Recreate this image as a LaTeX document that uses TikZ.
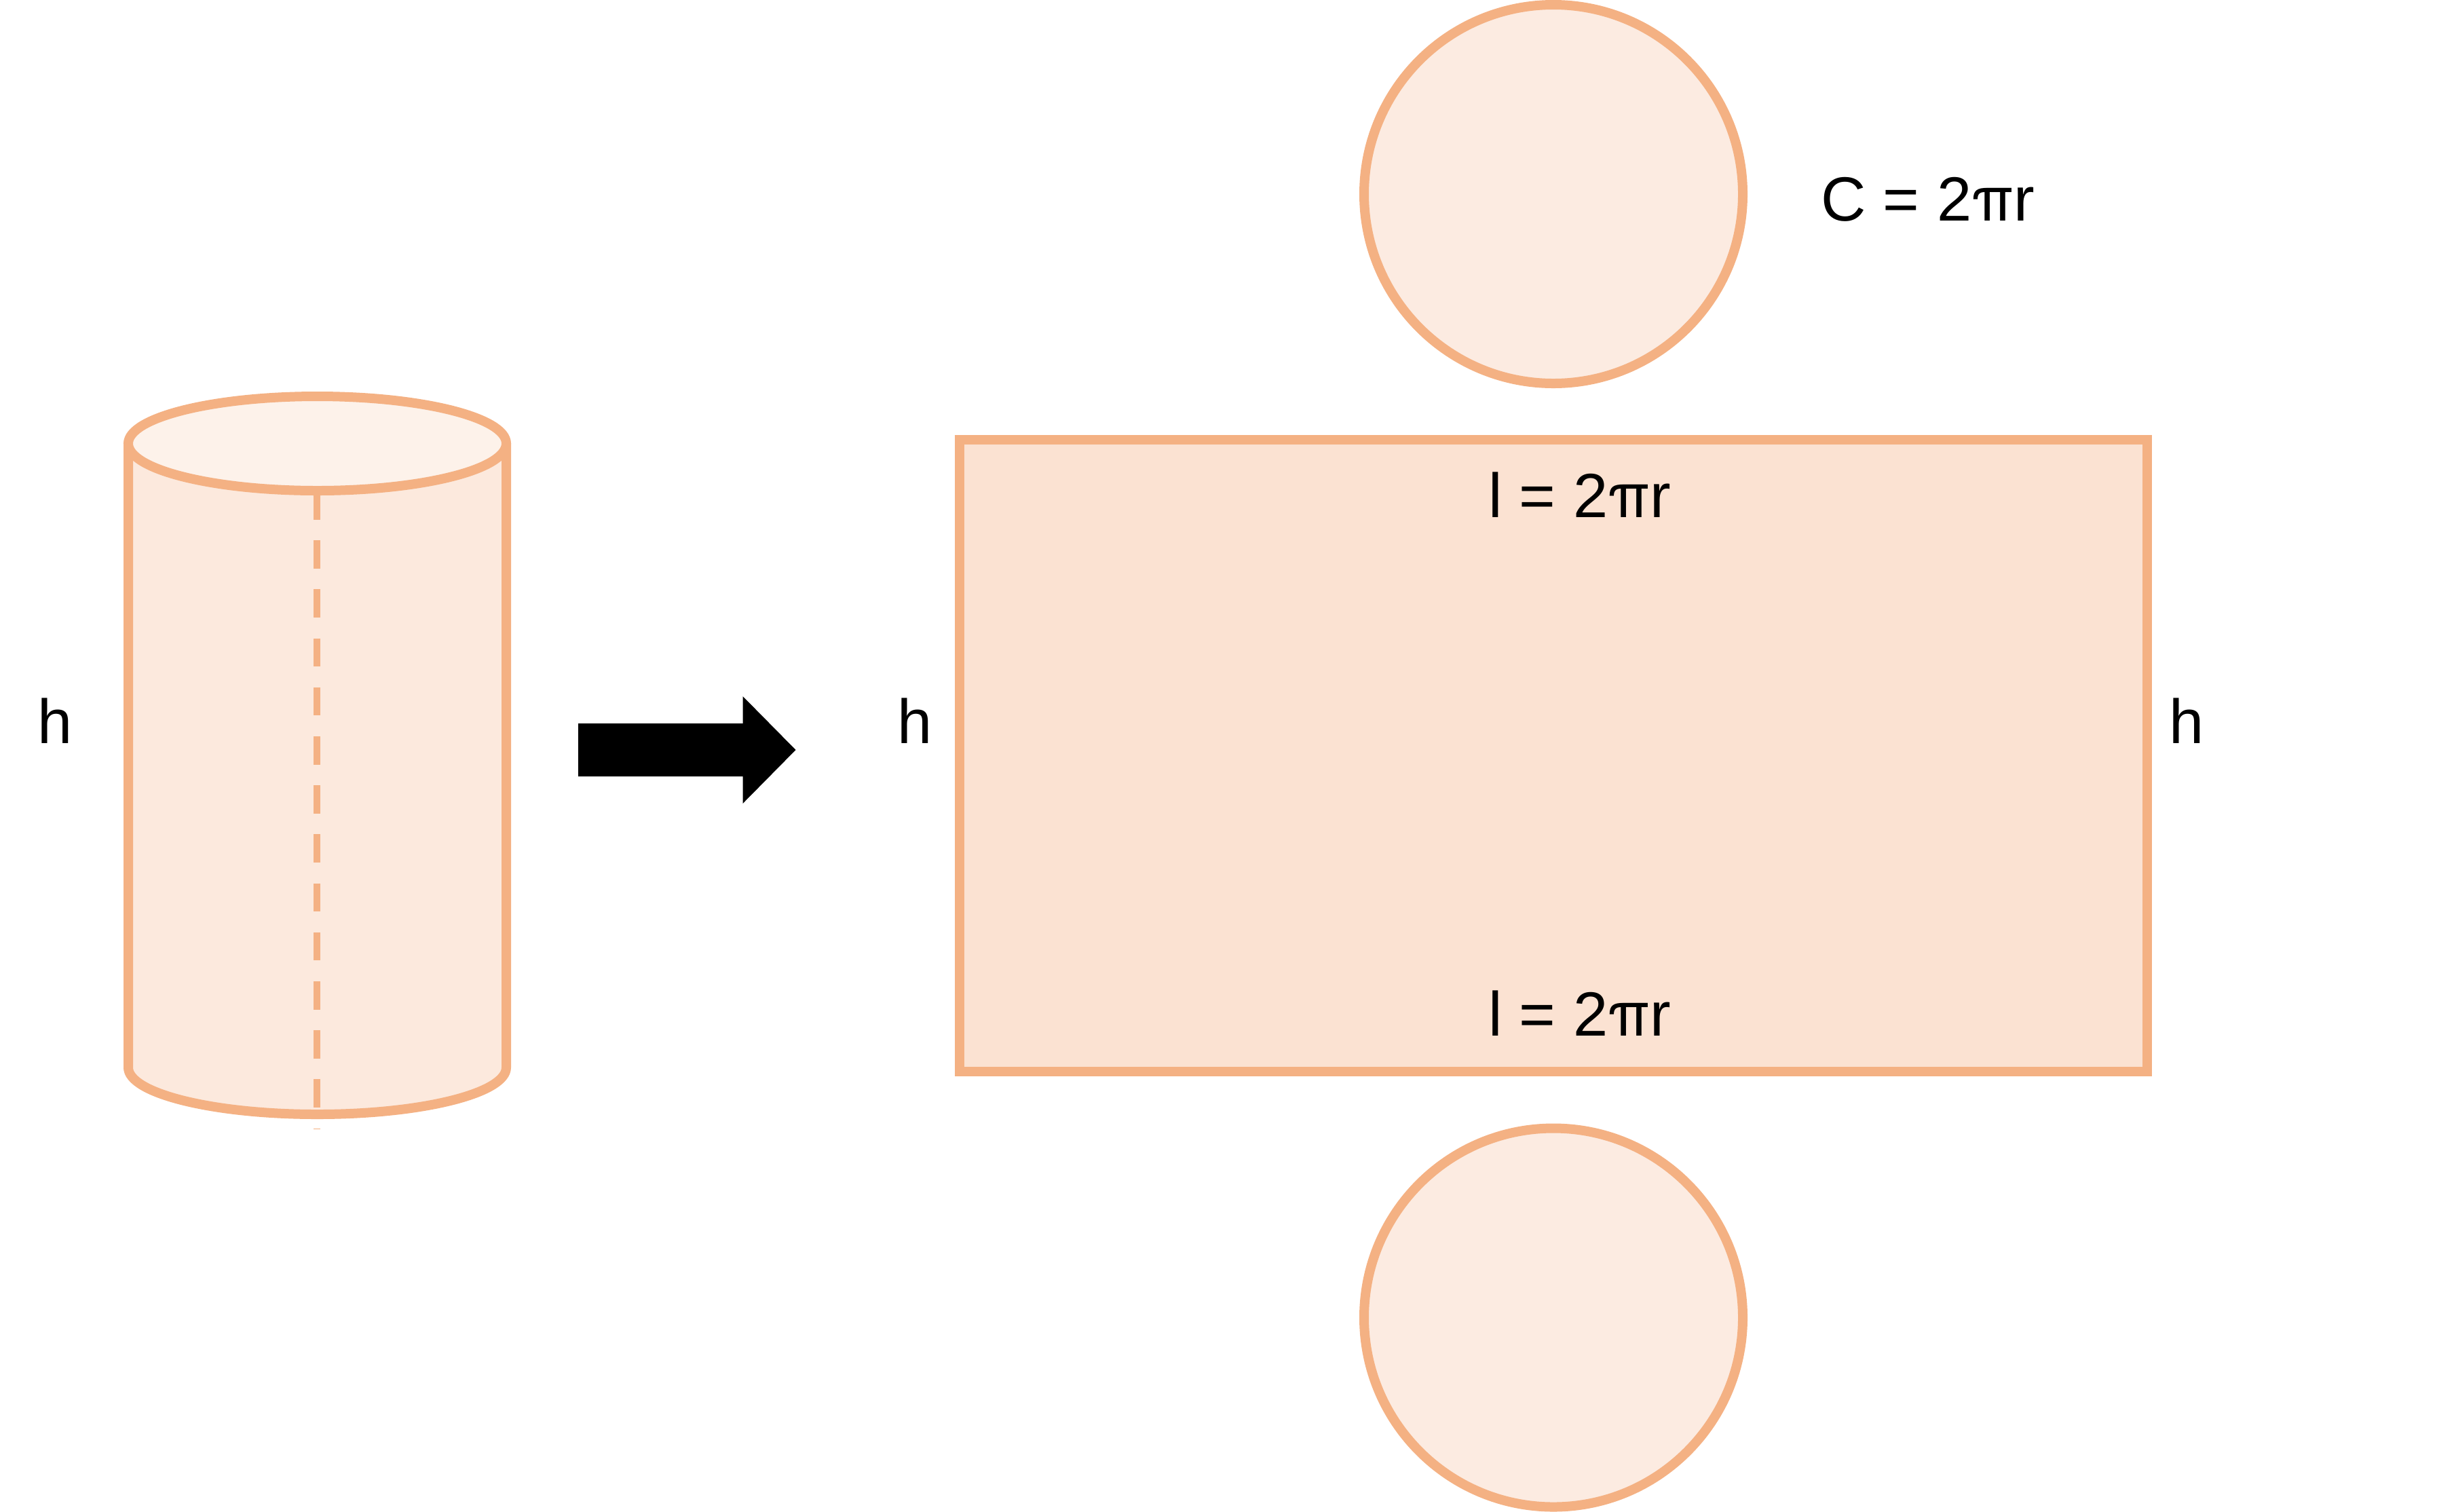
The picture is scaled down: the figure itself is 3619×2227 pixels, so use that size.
\documentclass[tikz,border=0pt]{standalone}
\usepackage{fontspec}
\setmainfont{Liberation Sans}
\newfontfamily\pifont{TeX Gyre Heros}
\usetikzlibrary{shapes.geometric}
\definecolor{edgeorange}{HTML}{F4B183}
\definecolor{rectfill}{HTML}{FBE2D2}
\definecolor{discfill}{HTML}{FCEBE1}
\definecolor{bodyfill}{HTML}{FCE9DD}
\definecolor{topfill}{HTML}{FDF2EA}
\tikzset{
  outline/.style={draw=edgeorange,line width=2.8pt,inner sep=0pt,outer sep=0pt},
  disc/.style={outline,circle,fill=discfill,minimum size=111.6pt},
  sheet/.style={outline,rectangle,fill=rectfill,minimum width=350pt,minimum height=186.2pt},
  lid/.style={outline,ellipse,fill=topfill,minimum width=111.4pt,minimum height=27.8pt},
  body/.style={draw=edgeorange,line width=2.8pt,fill=bodyfill,line join=round},
  seam/.style={draw=edgeorange,line width=2pt,dash pattern=on 8.3pt off 6.14pt},
  label/.style={inner sep=0pt,outer sep=0pt,anchor=base west,font=\fontsize{18.4pt}{22pt}\selectfont,text=black}
}
\begin{document}
\begin{tikzpicture}[x=0.2pt,y=-0.2pt]
\useasboundingbox (0,0) rectangle (3619,2227);
% cylinder
\draw[body] (189,653.5) -- (189,1573) arc[start angle=180,end angle=0,x radius=278.5,y radius=69] -- (746,653.5) -- cycle;
\coordinate (seamtop) at (466.5,724);
\coordinate (seamend) at (466.5,1663);
\draw[seam] (seamtop) -- (seamend);
\node[lid] (cyltop) at (467.5,653.5) {};
% arrow
\fill[black] (852,1066) -- (1094.5,1066) -- (1094.5,1026) -- (1172.5,1105) -- (1094.5,1184) -- (1094.5,1144) -- (852,1144) -- cycle;
% net
\node[disc] (topdisc) at (2289,286) {};
\node[sheet] (net) at (2289,1113.5) {};
\node[disc] (botdisc) at (2289,1941.5) {};
% labels
\node[label] (hcyl) at (55,1095) {h};
\node[label] (hleft) at (1322,1095) {h};
\node[label] (hright) at (3196,1095) {h};
\node[label] (circ) at (2683,325) {C = 2{\pifont π}r};
\node[label] (ltop) at (2193,762.7) {l = 2{\pifont π}r};
\node[label] (lbot) at (2193,1526.7) {l = 2{\pifont π}r};
\end{tikzpicture}
\end{document}
